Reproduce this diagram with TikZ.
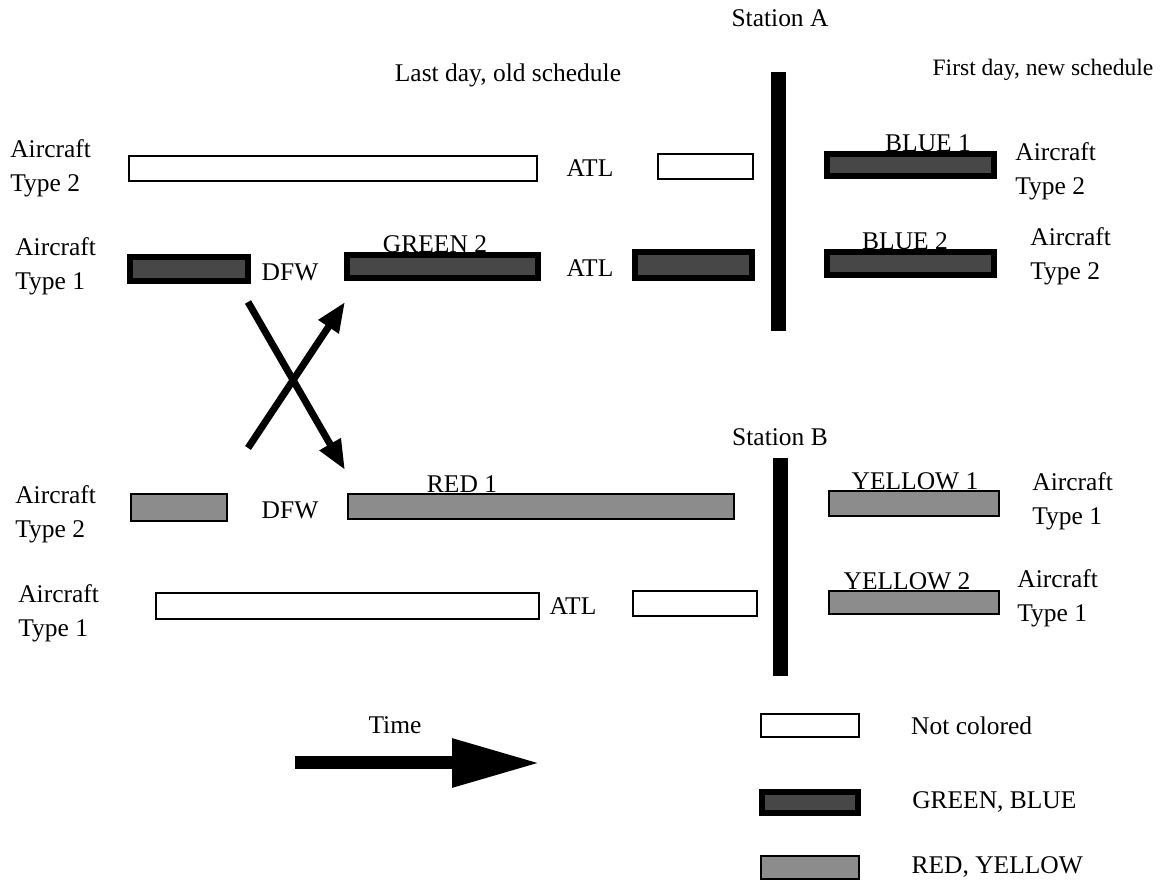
\documentclass[tikz,border=0pt]{standalone}
\usepackage{fontspec}
\setmainfont{Liberation Serif}
\usetikzlibrary{positioning, fit, arrows.meta}

\begin{document}
\begin{tikzpicture}[x=0.02cm, y=-0.02cm, font=\fontsize{14.5}{19.5}\selectfont,
		plainbar/.style={shape=rectangle, draw=black, line width=1.1pt, fill=white, inner sep=0pt},
		darkbar/.style={shape=rectangle, draw=black, line width=3.5pt, fill=black!72, inner sep=0pt},
		lightbar/.style={shape=rectangle, draw=black, line width=1.6pt, fill=black!45, inner sep=0pt},
		station/.style={shape=rectangle, draw=black, fill=black, inner sep=0pt},
		craft/.style={anchor=west, align=left, inner sep=0pt},
		flight/.style={anchor=base, inner sep=0pt},
		swap/.style={line width=4pt, -{Triangle[length=17pt, width=13pt]}}]

		\useasboundingbox (0,0) rectangle (1160,884);

		% Station A
		\node (stA) at (780,18) {Station A};
		\node (lastday) at (508,75) {Last day, old schedule};
		\node[font=\fontsize{13.4}{18}\selectfont] (firstday) at (1043,70) {First day, new schedule};
		\node[station, fit={(771,72) (785,330)}] (barA) {};

		% row 1
		\node[craft] (lt1) at (10,168) {Aircraft\\Type 2};
		\node[plainbar, fit={(129,156) (537,181)}] (r1a) {};
		\node (atl1) at (590,168) {ATL};
		\node[plainbar, fit={(658,154) (753,179)}] (r1b) {};
		\node[darkbar, fit={(827,154) (994,176)}] (blue1) {};
		\node[flight] at (928,152) {BLUE 1};
		\node[craft] (rt1) at (1015,171) {Aircraft\\Type 2};

		% row 2
		\node[craft] (lt2) at (15,266) {Aircraft\\Type 1};
		\node[darkbar, fit={(130,257) (248,281)}] (r2a) {};
		\node (dfw2) at (290,272) {DFW};
		\node[darkbar, fit={(347,255) (538,278)}] (green2) {};
		\node[flight] at (435,253) {GREEN 2};
		\node (atl2) at (590,268) {ATL};
		\node[darkbar, fit={(635,252) (752,278)}] (r2c) {};
		\node[darkbar, fit={(827,252) (994,275)}] (blue2) {};
		\node[flight] at (905,250) {BLUE 2};
		\node[craft] (rt2) at (1030,256) {Aircraft\\Type 2};

		% swap of the two aircraft at DFW
		\coordinate (s1) at (248,302);
		\coordinate (e1) at (345,470);
		\coordinate (s2) at (248,448);
		\coordinate (e2) at (345,302);
		\draw[swap] (s1) -- (e1);
		\draw[swap] (s2) -- (e2);

		% Station B
		\node (stB) at (780,437) {Station B};
		\node[station, fit={(773,458) (787,675)}] (barB) {};

		% row 3
		\node[craft] (lt3) at (15,514) {Aircraft\\Type 2};
		\node[lightbar, fit={(131,494) (227,521)}] (r3a) {};
		\node (dfw3) at (290,510) {DFW};
		\node[lightbar, fit={(348,494) (734,519)}] (red1) {};
		\node[flight] at (462,493) {RED 1};
		\node[lightbar, fit={(829,491) (999,516)}] (yellow1) {};
		\node[flight] at (915,490) {YELLOW 1};
		\node[craft] (rt3) at (1032,501) {Aircraft\\Type 1};

		% row 4
		\node[craft] (lt4) at (18,613) {Aircraft\\Type 1};
		\node[plainbar, fit={(156,593) (539,619)}] (r4a) {};
		\node (atl4) at (573,606) {ATL};
		\node[plainbar, fit={(633,591) (757,616)}] (r4b) {};
		\node[lightbar, fit={(829,591) (999,614)}] (yellow2) {};
		\node[flight] at (907,590) {YELLOW 2};
		\node[craft] (rt4) at (1017,598) {Aircraft\\Type 1};

		% time
		\node (time) at (395,725) {Time};
		\coordinate (t0) at (295,763);
		\coordinate (t1) at (540,763);
		\draw[line width=7.4pt, -{Triangle[length=50pt, width=26pt]}] (t0) -- (t1);

		% legend
		\node[plainbar, fit={(761,714) (859,737)}] (key1) {};
		\node[right=0.9cm of key1] (keytext1) {Not colored};
		\node[darkbar, fit={(762,792) (858,813)}] (key2) {};
		\node[right=0.9cm of key2] (keytext2) {GREEN, BLUE};
		\node[lightbar, fit={(761,856) (859,879)}] (key3) {};
		\node[right=0.9cm of key3] (keytext3) {RED, YELLOW};
	\end{tikzpicture}
\end{document}
